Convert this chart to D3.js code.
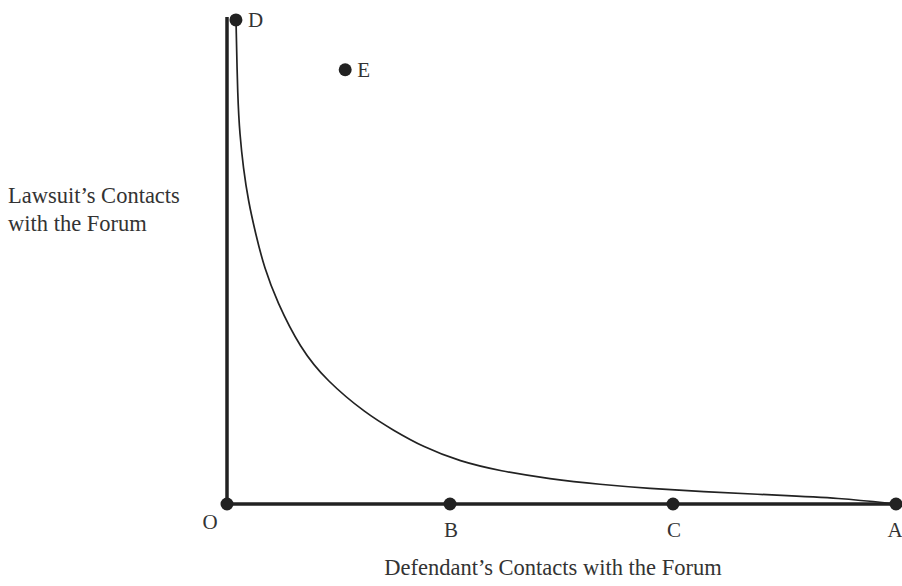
<!DOCTYPE html>
<html>
<head>
<meta charset="utf-8">
<script src="https://cdn.jsdelivr.net/npm/d3@7"></script>
<style>
html,body{margin:0;padding:0;background:#fff;}
svg{display:block;}
text{font-family:"Liberation Serif","DejaVu Serif",serif;fill:#333;}
</style>
</head>
<body>
<svg id="chart" width="902" height="586"></svg>
<script>
// Axis points (x position in "defendant's contacts" units)
const axisPointNames = ["O", "B", "C", "A"];
const axisPointX = [0, 1, 2, 3];
// Free points
const freeNames = ["D", "E"];
const freeX = [0.04, 0.53];
const freeY = [9.9, 8.88];
// Curve
const curveX = [0.0404, 0.0480, 0.0574, 0.0731, 0.0955, 0.1287, 0.1673, 0.2229, 0.3274, 0.4471, 0.6265, 0.7444, 0.8789, 1.0448, 1.2242, 1.4484, 1.6726, 1.8969, 2.1211, 2.4484, 2.7489, 3.0];
const curveY = [9.898, 8.262, 7.566, 6.871, 6.196, 5.521, 4.826, 4.151, 3.190, 2.515, 1.840, 1.513, 1.166, 0.869, 0.675, 0.511, 0.399, 0.317, 0.256, 0.184, 0.123, 0.0];
const yLabelLines = ["Lawsuit\u2019s Contacts", "with the Forum"];
const xLabel = "Defendant\u2019s Contacts with the Forum";

const svg = d3.select("#chart");
const x = d3.scaleLinear().domain([0, 3]).range([227, 896]);
const y = d3.scaleLinear().domain([0, 10]).range([504, 15]);

// axes
svg.append("line").attr("x1", x(0)).attr("x2", x(0)).attr("y1", 17).attr("y2", y(0))
  .attr("stroke", "#222").attr("stroke-width", 3.5);
svg.append("line").attr("x1", x(0)).attr("x2", x(3)).attr("y1", y(0)).attr("y2", y(0))
  .attr("stroke", "#222").attr("stroke-width", 3.5);

// curve
const pts = curveX.map((d, i) => [d, curveY[i]]);
const line = d3.line().x(d => x(d[0])).y(d => y(d[1])).curve(d3.curveBasis);
svg.append("path").datum(pts).attr("d", line).attr("fill", "none")
  .attr("stroke", "#222").attr("stroke-width", 1.7);

// axis points
svg.selectAll(".ap").data(axisPointX).join("circle").attr("class", "ap")
  .attr("cx", d => x(d)).attr("cy", y(0)).attr("r", 6.5).attr("fill", "#222");
const labelDx = [-17, 1, 1, -1];
const labelY = [529, 537, 537, 537];
svg.selectAll(".apl").data(axisPointNames).join("text").attr("class", "apl")
  .attr("x", (d, i) => x(axisPointX[i]) + labelDx[i])
  .attr("y", (d, i) => labelY[i])
  .attr("text-anchor", "middle").attr("font-size", 21).text(d => d);

// free points
svg.selectAll(".fp").data(freeX).join("circle").attr("class", "fp")
  .attr("cx", d => x(d)).attr("cy", (d, i) => y(freeY[i])).attr("r", 6.5).attr("fill", "#222");
svg.selectAll(".fpl").data(freeNames).join("text").attr("class", "fpl")
  .attr("x", (d, i) => x(freeX[i]) + 12).attr("y", (d, i) => y(freeY[i]) + 7)
  .attr("font-size", 21).text(d => d);

// axis titles
svg.append("text").attr("x", 8).attr("y", 203).attr("font-size", 22.5).text(yLabelLines[0]);
svg.append("text").attr("x", 8).attr("y", 231).attr("font-size", 22.5).text(yLabelLines[1]);
svg.append("text").attr("x", 553).attr("y", 575).attr("text-anchor", "middle")
  .attr("font-size", 22.5).text(xLabel);
</script>
</body>
</html>
